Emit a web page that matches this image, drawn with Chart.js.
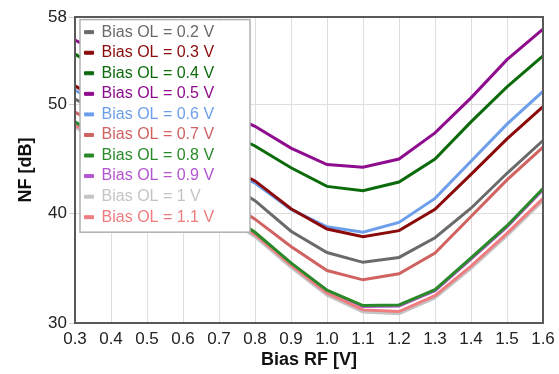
<!DOCTYPE html>
<html>
<head>
<meta charset="utf-8">
<script src="https://cdn.jsdelivr.net/npm/chart.js@4.4.1/dist/chart.umd.min.js"></script>
<style>
html,body{margin:0;padding:0;background:#fff;}
#wrap{width:559px;height:374px;position:relative;}
</style>
</head>
<body>
<div id="wrap"><canvas id="c" width="559" height="374"></canvas></div>
<script>
const biasRF = ['0.3','0.4','0.5','0.6','0.7','0.8','0.9','1.0','1.1','1.2','1.3','1.4','1.5','1.6'];
const seriesNames = ['Bias OL = 0.2 V','Bias OL = 0.3 V','Bias OL = 0.4 V','Bias OL = 0.5 V','Bias OL = 0.6 V','Bias OL = 0.7 V','Bias OL = 0.8 V','Bias OL = 0.9 V','Bias OL = 1 V','Bias OL = 1.1 V'];
const ol02 = [50.5, 48.7, 46.9, 45.2, 43.2, 41.2, 38.4, 36.45, 35.55, 36.0, 37.8, 40.5, 43.7, 46.7];
const ol03 = [51.7, 49.8, 48.1, 46.4, 44.7, 43.0, 40.45, 38.6, 37.9, 38.45, 40.4, 43.6, 46.85, 49.8];
const ol04 = [54.6, 52.7, 51.0, 49.4, 47.8, 46.2, 44.2, 42.5, 42.1, 42.9, 45.0, 48.4, 51.6, 54.45];
const ol05 = [55.9, 54.1, 52.5, 51.0, 49.5, 48.0, 46.0, 44.5, 44.25, 45.0, 47.4, 50.6, 54.1, 56.9];
const ol06 = [51.3, 49.5, 47.8, 46.2, 44.5, 42.8, 40.4, 38.8, 38.3, 39.2, 41.4, 44.8, 48.2, 51.2];
const ol07 = [49.3, 47.5, 45.7, 43.9, 41.7, 39.5, 37.0, 34.8, 33.95, 34.5, 36.4, 39.75, 43.1, 46.1];
const ol08 = [48.4, 46.5, 44.7, 42.8, 40.5, 38.3, 35.5, 33.0, 31.6, 31.65, 33.05, 35.95, 38.9, 42.3];
const ol09 = [48.3, 46.4, 44.6, 42.7, 40.4, 38.2, 35.45, 32.95, 31.5, 31.55, 32.95, 35.85, 38.8, 42.2];
const ol10 = [47.9, 46.1, 44.3, 42.4, 40.1, 37.9, 35.1, 32.55, 31.0, 30.85, 32.3, 35.0, 38.0, 41.2];
const ol11 = [48.1, 46.3, 44.5, 42.6, 40.3, 38.1, 35.3, 32.75, 31.2, 31.05, 32.5, 35.2, 38.2, 41.4];
const yTicks = [30, 40, 50, 58];

const values = [ol02, ol03, ol04, ol05, ol06, ol07, ol08, ol09, ol10, ol11];
const colors = ['#6a6a6a','#8b0a0a','#0b6b0b','#8e0c8e','#6d9eeb','#d06262','#2a8a2a','#b455d0','#c4c4c4','#ee7c80'];
const orders = [0,0,0,0,0,0,0,1,1,0];

const FONT = "'Liberation Sans', Arial, sans-serif";

const legendBoxPlugin = {
  id: 'legendBox',
  afterLayout(chart) {
    const lg = chart.legend;
    if (!lg) return;
    lg.left = chart.chartArea.left + 5;
    lg.top = chart.chartArea.top + 2.6;
  },
  afterDatasetsDraw(chart) {
    const ctx = chart.ctx;
    const a = chart.chartArea;
    const lg = chart.legend;
    ctx.save();
    // frame
    ctx.strokeStyle = '#595959';
    ctx.lineWidth = 2;
    ctx.strokeRect(a.left, a.top, a.right - a.left, a.bottom - a.top);
    // legend background
    const rowH = 16 + lg.options.labels.padding;
    const bx = lg.left, by = lg.top;
    const bw = 170, bh = seriesNames.length * rowH + 7;
    ctx.fillStyle = '#ffffff';
    ctx.fillRect(bx, by, bw, bh);
    ctx.strokeStyle = '#b0b0b0';
    ctx.lineWidth = 1.5;
    ctx.strokeRect(bx, by, bw, bh);
    ctx.restore();
    lg.draw();
  }
};

new Chart(document.getElementById('c'), {
  type: 'line',
  data: {
    labels: biasRF,
    datasets: values.map((v, i) => ({
      label: seriesNames[i],
      data: v,
      borderColor: colors[i],
      backgroundColor: colors[i],
      borderWidth: 3,
      pointRadius: 0,
      tension: 0,
      fill: false,
      order: orders[i]
    }))
  },
  options: {
    responsive: false,
    animation: false,
    devicePixelRatio: 1,
    layout: { padding: { left: 15, right: 16, top: 17, bottom: 3 } },
    plugins: {
      tooltip: { enabled: false },
      legend: {
        position: 'chartArea',
        align: 'start',
        labels: {
          font: { family: FONT, size: 16 },
          boxWidth: 9,
          boxHeight: 3,
          padding: 4.56,
          sort: (a, b) => a.datasetIndex - b.datasetIndex,
          generateLabels: (chart) => {
            const items = Chart.defaults.plugins.legend.labels.generateLabels(chart);
            items.forEach(it => {
              const c = colors[it.datasetIndex];
              it.fontColor = c;
              it.fillStyle = c;
              it.strokeStyle = c;
              it.lineWidth = 1;
            });
            return items;
          }
        }
      }
    },
    scales: {
      x: {
        type: 'category',
        border: { display: false },
        grid: { color: '#dedede', lineWidth: 1, drawTicks: true, tickLength: 5, tickColor: 'rgba(0,0,0,0)' },
        ticks: { font: { family: FONT, size: 17 }, color: '#222', padding: 1, maxRotation: 0, autoSkip: false },
        title: { display: true, text: 'Bias RF [V]', font: { family: FONT, size: 18, weight: 'bold' }, color: '#111', padding: { top: 0, bottom: 0 } },
        afterFit: (s) => { s.height = 48; }
      },
      y: {
        min: 30,
        max: 58,
        border: { display: false },
        grid: { color: '#dedede', lineWidth: 1, drawTicks: true, tickLength: 6, tickColor: '#cfcfcf' },
        ticks: {
          stepSize: 10,
          font: { family: FONT, size: 17 },
          color: '#222',
          padding: 2
        },
        afterBuildTicks: (s) => { s.ticks = yTicks.map(v => ({ value: v })); },
        title: { display: true, text: 'NF [dB]', font: { family: FONT, size: 18, weight: 'bold' }, color: '#111', padding: { top: 0, bottom: 0 } },
        afterFit: (s) => { s.width = 60; }
      }
    }
  },
  plugins: [legendBoxPlugin]
});
</script>
</body>
</html>
